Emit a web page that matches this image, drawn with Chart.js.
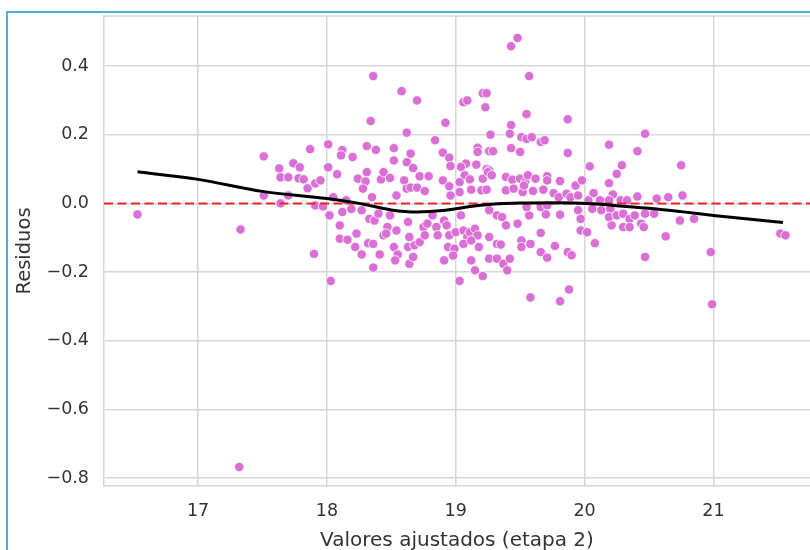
<!DOCTYPE html>
<html lang="es">
<head>
<meta charset="utf-8">
<title>Residuos vs valores ajustados (etapa 2)</title>
<script src="https://cdn.jsdelivr.net/npm/chart.js"></script>
<style>
  body { margin: 0; background: #ffffff; overflow: hidden; }
  #contenedor { position: relative; width: 810px; height: 550px; }
  #marco {
    position: absolute; left: 6px; top: 11px; width: 900px; height: 600px;
    border-left: 2px solid #4aaee3; border-top: 2px solid #4aaee3;
    pointer-events: none;
  }
</style>
</head>
<body>
<div id="contenedor">
  <canvas id="grafica" width="810" height="550"></canvas>
  <div id="marco"></div>
</div>
<script>
// Valores ajustados (eje x) y residuos (eje y)
const ajustados = [
  16.53, 17.33, 17.32, 19.43, 19.48, 19.57, 18.36, 18.58, 19.21, 19.24,
  21.52, 21.56, 17.51, 17.63, 17.74, 17.79, 17.64, 17.70, 17.78, 17.82,
  17.51, 17.64, 17.70, 17.85, 17.87, 17.91, 17.95, 17.91, 18.01, 18.01,
  18.08, 18.70, 19.06, 19.09, 19.23, 19.55, 18.34, 18.92, 18.62, 18.84,
  19.27, 19.43, 19.42, 19.51, 19.55, 18.12, 18.11, 18.20, 18.31, 18.38,
  18.52, 18.52, 18.65, 18.62, 18.67, 18.90, 18.95, 18.96, 19.17, 19.17,
  19.26, 19.29, 19.43, 19.50, 19.08, 19.16, 19.24, 19.26, 18.24, 18.31,
  18.30, 18.28, 18.42, 18.44, 18.49, 18.35, 18.54, 18.60, 18.62, 18.65,
  18.70, 18.72, 18.79, 18.76, 18.90, 18.95, 18.96, 19.04, 19.07, 19.03,
  19.11, 19.12, 19.03, 19.21, 19.25, 19.28, 19.20, 19.24, 19.39, 19.44,
  19.50, 19.54, 19.39, 19.45, 19.52, 18.05, 18.15, 17.97, 18.02, 18.10,
  18.10, 18.16, 18.23, 18.12, 18.19, 18.27, 18.33, 18.37, 18.40, 18.22,
  18.27, 18.32, 18.36, 18.41, 18.44, 18.47, 18.49, 18.46, 18.54, 18.36,
  17.90, 18.03, 18.52, 18.55, 18.53, 18.63, 18.64, 18.63, 18.68, 18.72,
  18.64, 18.67, 18.75, 18.78, 18.76, 18.82, 18.85, 18.86, 18.91, 18.93,
  18.95, 19.00, 18.94, 18.99, 18.98, 18.91, 19.04, 19.06, 19.09, 19.11,
  19.15, 19.17, 19.06, 19.12, 19.18, 19.12, 19.15, 19.21, 19.03, 19.26,
  19.32, 19.36, 19.39, 19.26, 19.32, 19.35, 19.26, 19.32, 19.37, 19.40,
  19.42, 19.48, 19.51, 19.51, 19.57, 19.58, 19.87, 20.47, 20.19, 20.41,
  19.87, 19.59, 19.66, 19.69, 20.04, 20.29, 20.25, 20.75, 20.19, 19.56,
  19.62, 19.71, 19.71, 19.81, 19.53, 19.60, 19.68, 19.76, 19.80, 19.86,
  19.93, 19.98, 19.89, 19.95, 20.07, 20.22, 20.03, 20.12, 20.19, 20.28,
  20.33, 20.41, 20.56, 20.65, 20.76, 19.55, 19.66, 19.71, 19.81, 19.70,
  19.95, 19.97, 19.97, 20.02, 20.08, 20.06, 20.13, 20.20, 20.19, 20.25,
  20.30, 20.35, 20.39, 20.44, 20.47, 20.54, 20.21, 20.30, 20.35, 20.46,
  20.74, 20.85, 20.63, 20.47, 20.98, 19.58, 19.66, 19.66, 19.71, 19.77,
  19.87, 19.90, 19.81, 19.88, 20.99
];
const residuos = [
  -0.032, -0.076, -0.768, 0.458, 0.482, 0.371, 0.371, 0.327, 0.321, 0.321,
  -0.088, -0.093, 0.137, 0.102, 0.117, 0.105, 0.076, 0.076, 0.073, 0.070,
  0.023, 0.000, 0.023, 0.044, 0.158, 0.058, 0.067, -0.006, 0.172, 0.105,
  0.085, 0.300, 0.295, 0.300, 0.280, 0.260, 0.240, 0.235, 0.206, 0.184,
  0.200, 0.228, 0.203, 0.193, 0.188, 0.155, 0.140, 0.135, 0.167, 0.156,
  0.161, 0.125, 0.145, 0.120, 0.103, 0.148, 0.133, 0.109, 0.162, 0.150,
  0.152, 0.152, 0.161, 0.150, 0.116, 0.113, 0.100, 0.096, 0.072, 0.091,
  0.064, 0.043, 0.070, 0.091, 0.074, 0.018, 0.023, 0.067, 0.043, 0.046,
  0.046, 0.079, 0.079, 0.036, 0.067, 0.050, 0.023, 0.106, 0.082, 0.062,
  0.070, 0.040, 0.033, 0.072, 0.091, 0.082, 0.038, 0.040, 0.077, 0.069,
  0.072, 0.062, 0.038, 0.043, 0.033, 0.018, 0.009, -0.009, -0.035, -0.064,
  -0.103, -0.106, -0.088, -0.025, -0.016, -0.020, -0.045, -0.050, -0.030, -0.127,
  -0.149, -0.116, -0.118, -0.149, -0.093, -0.069, -0.035, -0.088, -0.079, -0.187,
  -0.147, -0.226, -0.127, -0.149, -0.166, -0.054, -0.098, -0.127, -0.122, -0.113,
  -0.176, -0.156, -0.069, -0.059, -0.093, -0.035, -0.069, -0.093, -0.050, -0.064,
  -0.093, -0.084, -0.127, -0.132, -0.152, -0.166, -0.035, -0.079, -0.098, -0.084,
  -0.074, -0.093, -0.118, -0.108, -0.127, -0.166, -0.195, -0.212, -0.226, -0.020,
  -0.035, -0.040, -0.064, -0.098, -0.118, -0.120, -0.161, -0.161, -0.176, -0.195,
  -0.161, -0.059, -0.108, -0.127, -0.035, -0.274, 0.245, 0.203, 0.171, 0.152,
  0.147, 0.193, 0.179, 0.184, 0.108, 0.111, 0.086, 0.111, 0.059, 0.082,
  0.072, 0.079, 0.067, 0.065, 0.052, 0.036, 0.040, 0.030, 0.018, 0.028,
  0.052, 0.067, 0.018, 0.023, 0.030, 0.026, 0.009, 0.009, 0.009, 0.009,
  0.009, 0.020, 0.014, 0.018, 0.023, -0.011, -0.011, -0.006, -0.033, -0.032,
  -0.020, -0.045, -0.079, -0.084, -0.116, -0.016, -0.020, -0.016, -0.040, -0.035,
  -0.030, -0.045, -0.035, -0.059, -0.030, -0.030, -0.064, -0.069, -0.069, -0.069,
  -0.050, -0.045, -0.096, -0.156, -0.142, -0.118, -0.086, -0.142, -0.158, -0.124,
  -0.142, -0.151, -0.285, -0.251, -0.294
];

// Curva suavizada (lowess) de los residuos
const lowessX = [16.53, 17.0, 17.5, 18.0, 18.25, 18.5, 18.7, 18.9, 19.1, 19.3, 19.5, 19.8, 20.05, 20.3, 20.5, 20.75, 21.0, 21.25, 21.54];
const lowessY = [0.092, 0.070, 0.035, 0.014, 0.000, -0.019, -0.025, -0.021, -0.010, -0.002, 0.001, 0.002, -0.001, -0.008, -0.014, -0.024, -0.035, -0.045, -0.056];

// Marcas de los ejes
const xTicks = [17, 18, 19, 20, 21];
const yTicks = [-0.8, -0.6, -0.4, -0.2, 0.0, 0.2, 0.4];
const xLimites = [16.27, 21.75];
const yLimites = [-0.8234, 0.546];

const fuente = "'DejaVu Sans', sans-serif";
const colorTexto = "#333333";
const colorRejilla = "#d6d6d6";

// Linea superior del recuadro de los ejes
const bordeSuperior = {
  id: "bordeSuperior",
  afterDraw(chart) {
    const { ctx, chartArea } = chart;
    ctx.save();
    ctx.strokeStyle = colorRejilla;
    ctx.lineWidth = 1.5;
    ctx.beginPath();
    ctx.moveTo(chartArea.left, chartArea.top);
    ctx.lineTo(chartArea.right, chartArea.top);
    ctx.stroke();
    ctx.restore();
  }
};

const ctx = document.getElementById("grafica");

new Chart(ctx, {
  type: "scatter",
  data: {
    datasets: [
      {
        label: "lowess",
        type: "line",
        data: lowessX.map((x, i) => ({ x: x, y: lowessY[i] })),
        borderColor: "#000000",
        borderWidth: 3,
        pointRadius: 0,
        cubicInterpolationMode: "monotone",
        order: 0
      },
      {
        label: "cero",
        type: "line",
        data: xLimites.map(x => ({ x: x, y: 0 })),
        borderColor: "#e8262a",
        borderWidth: 2,
        borderDash: [9, 4.5],
        pointRadius: 0,
        order: 1
      },
      {
        label: "Residuos",
        data: ajustados.map((x, i) => ({ x: x, y: residuos[i] })),
        backgroundColor: "#da70d6",
        borderColor: "#ffffff",
        borderWidth: 0.8,
        pointRadius: 4.7,
        order: 2
      }
    ]
  },
  options: {
    responsive: false,
    animation: false,
    layout: { autoPadding: false, padding: { left: 13, top: 16, right: 0, bottom: 0 } },
    plugins: {
      legend: { display: false },
      tooltip: { enabled: false }
    },
    scales: {
      x: {
        type: "linear",
        min: xLimites[0],
        max: xLimites[1],
        afterBuildTicks: axis => { axis.ticks = xTicks.map(v => ({ value: v })); },
        afterFit: axis => {
          axis.height = 64;
          axis.paddingLeft = 0;
          axis.paddingRight = 0;
        },
        grid: { color: colorRejilla, lineWidth: 1.5, drawTicks: false },
        border: { color: colorRejilla, width: 1.5 },
        ticks: {
          padding: 15,
          color: colorTexto,
          font: { family: fuente, size: 17.5 },
          callback: v => String(v)
        },
        title: {
          display: true,
          text: "Valores ajustados (etapa 2)",
          color: colorTexto,
          padding: 0,
          font: { family: fuente, size: 20, lineHeight: 0.9 }
        }
      },
      y: {
        type: "linear",
        min: yLimites[0],
        max: yLimites[1],
        afterBuildTicks: axis => { axis.ticks = yTicks.map(v => ({ value: v })); },
        afterFit: axis => {
          axis.width = 91;
          axis.paddingTop = 0;
          axis.paddingBottom = 0;
        },
        grid: { color: colorRejilla, lineWidth: 1.5, drawTicks: false },
        border: { color: colorRejilla, width: 1.5 },
        ticks: {
          padding: 15,
          color: colorTexto,
          font: { family: fuente, size: 17.5 },
          callback: v => v.toFixed(1).replace("-", "\u2212")
        },
        title: {
          display: true,
          text: "Residuos",
          color: colorTexto,
          padding: 0,
          font: { family: fuente, size: 19.5 }
        }
      }
    }
  },
  plugins: [bordeSuperior]
});
</script>
</body>
</html>
